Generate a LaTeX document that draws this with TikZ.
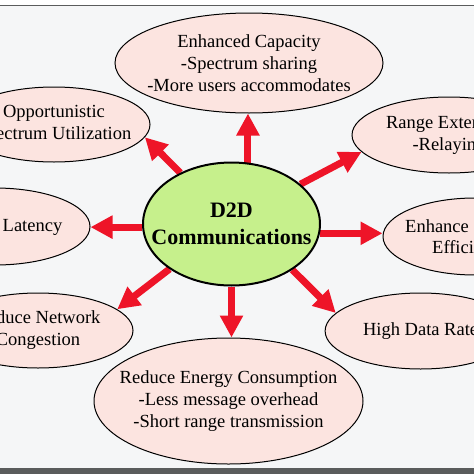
\documentclass[tikz,border=0pt]{standalone}
\usepackage{fontspec}
\setmainfont{Liberation Serif}
\usetikzlibrary{shapes.geometric,arrows.meta}
\definecolor{bgc}{RGB}{245,246,247}
\definecolor{pinkc}{RGB}{252,228,224}
\definecolor{greenc}{RGB}{198,240,140}
\definecolor{redc}{RGB}{238,20,40}
\definecolor{framec}{RGB}{90,92,92}
\pgfdeclarelayer{back}
\pgfdeclarelayer{mid}
\pgfsetlayers{back,mid,main}
\begin{document}
\begin{tikzpicture}[x=1pt,y=-1pt,
  oval/.style={ellipse,draw=black,line width=1pt,fill=pinkc,inner sep=0pt},
  lbl/.style={inner sep=0pt,align=center,font=\fontsize{18.5}{22}\selectfont},
  hub/.style={ellipse,draw=black,line width=2pt,fill=greenc,inner sep=0pt},
  hubtext/.style={inner sep=0pt,align=center,font=\bfseries\fontsize{22}{27}\selectfont},
  arr/.style={draw=redc,line width=7pt,-{Triangle[length=22pt,width=22pt]}}]
\useasboundingbox (0,0) rectangle (474,474);
\clip (0,0) rectangle (474,474);
\begin{pgfonlayer}{back}
  \fill[white] (0,0) rectangle (474,474);
  \fill[bgc] (0,6) rectangle (474,468);
  \draw[framec,line width=1.8pt] (0,5.5) -- (474,5.5);
  \fill[framec] (0,468) rectangle (474,474);
\end{pgfonlayer}

% outer ellipses
\node[oval,minimum width=268pt,minimum height=100pt] (cap) at (249,63) {};
\node[lbl] (capt) at (cap.center) {Enhanced Capacity\\-Spectrum sharing\\-More users accommodates};

\node[oval,minimum width=192pt,minimum height=75pt] (opp) at (54,124.5) {};
\node[lbl] (oppt) at (opp.center) {Opportunistic\\Spectrum Utilization};

\node[oval,minimum width=194pt,minimum height=76pt] (rex) at (449,135) {};
\node[lbl] (rext) at (rex.center) {Range Extension\\-Relaying};

\node[oval,minimum width=190pt,minimum height=77pt] (lat) at (-5,226.5) {};
\node[lbl] (latt) at (32.5,227) {Latency};

\node[oval,minimum width=184pt,minimum height=77pt] (eff) at (475,236.5) {};
\node[lbl,anchor=base west] (efft1) at (405,232) {Enhance};
\node[lbl,anchor=base west] (efft2) at (432,253) {Efficiency};

\node[oval,minimum width=190pt,minimum height=75pt] (rnc) at (38,330.5) {};
\node[lbl] (rnct) at (rnc.center) {Reduce Network\\Congestion};

\node[oval,minimum width=191pt,minimum height=76pt] (hdr) at (420.6,331) {};
\node[lbl] (hdrt) at (hdr.center) {High Data Rate};

\node[oval,minimum width=269pt,minimum height=126pt] (rec) at (228.5,401) {};
\node[lbl] (rect) at (rec.center) {Reduce Energy Consumption\\-Less message overhead\\-Short range transmission};

% hub
\node[hub,minimum width=177pt,minimum height=123pt] (c) at (231.5,224) {};
\node[hubtext] (ct) at (c.center) {D2D\\Communications};

% arrows
\begin{pgfonlayer}{mid}
  \draw[arr] (c.75) -- (c.75 |- cap.south);
  \draw[arr] (c.135) -- (opp.-8);
  \draw[arr] (c.30) -- (rex.-169);
  \draw[arr] (c.182) -- (c.182 -| lat.east);
  \draw[arr] (c.-6) -- (c.-6 -| eff.west);
  \draw[arr] (c.216) -- (rnc.15);
  \draw[arr] (c.-37) -- (hdr.168);
  \draw[arr] (c.south) -- (c.south |- rec.north);
\end{pgfonlayer}
\end{tikzpicture}
\end{document}
